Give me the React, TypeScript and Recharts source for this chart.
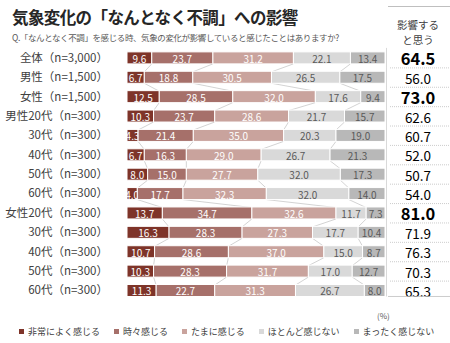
import React from 'react';
import { BarChart, Bar, XAxis, YAxis, Legend } from 'recharts';

const categories = ['全体（n=3,000）', '男性（n=1,500）', '女性（n=1,500）', '男性20代（n=300）', '30代（n=300）', '40代（n=300）', '50代（n=300）', '60代（n=300）', '女性20代（n=300）', '30代（n=300）', '40代（n=300）', '50代（n=300）', '60代（n=300）'];
const veryOften = [9.6, 6.7, 12.5, 10.3, 4.3, 6.7, 8.0, 4.0, 13.7, 16.3, 10.7, 10.3, 11.3];
const sometimes = [23.7, 18.8, 28.5, 23.7, 21.4, 16.3, 15.0, 17.7, 34.7, 28.3, 28.6, 28.3, 22.7];
const occasionally = [31.2, 30.5, 32.0, 28.6, 35.0, 29.0, 27.7, 32.3, 32.6, 27.3, 37.0, 31.7, 31.3];
const rarely = [22.1, 26.5, 17.6, 21.7, 20.3, 26.7, 32.0, 32.0, 11.7, 17.7, 15.0, 17.0, 26.7];
const never = [13.4, 17.5, 9.4, 15.7, 19.0, 21.3, 17.3, 14.0, 7.3, 10.4, 8.7, 12.7, 8.0];
const affected = [64.5, 56.0, 73.0, 62.6, 60.7, 52.0, 50.7, 54.0, 81.0, 71.9, 76.3, 70.3, 65.3];
const highlighted = [true, false, true, false, false, false, false, false, true, false, false, false, false];
const seriesNames = ['非常によく感じる', '時々感じる', 'たまに感じる', 'ほとんど感じない', 'まったく感じない'];
const seriesKeys = ['s1', 's2', 's3', 's4', 's5'];
const seriesValues = [veryOften, sometimes, occasionally, rarely, never];
const colors = ['#7E3429', '#A6706A', '#C9A39D', '#D9D9D9', '#B8B8B8'];
const labelColors = ['#FFFFFF', '#FFFFFF', '#FFFFFF', '#595959', '#595959'];

const data = categories.map((name, i) => {
  const row: any = { id: String(i), name };
  seriesKeys.forEach((k, s) => { row[k] = seriesValues[s][i]; });
  return row;
});

const cumEnd = (row: number, s: number) => {
  let t = 0;
  for (let k = 0; k <= s; k++) t += seriesValues[k][row];
  return t;
};

const GAP = 0.2;
const FONT = '"Noto Sans CJK JP", "Noto Sans", sans-serif';

const makeShape = (s: number) => (props: any) => {
  const { x, y, width, height, index } = props;
  const value = seriesValues[s][index];
  const ppu = width / value;
  const step = height / (1 - 2 * GAP);
  const xEnd = x + width;
  const elems: any[] = [];
  elems.push(<rect key="r" x={x} y={y} width={width} height={height} fill={colors[s]} stroke="#FFFFFF" strokeWidth={1} />);
  elems.push(
    <text key="t" x={x + width / 2} y={y + height / 2 + 0.5} textAnchor="middle" dominantBaseline="central" fontSize={10} fill={labelColors[s]} fontFamily={FONT}>
      {value.toFixed(1)}
    </text>
  );
  if (s < 4 && index < categories.length - 1) {
    const nextEnd = xEnd + (cumEnd(index + 1, s) - cumEnd(index, s)) * ppu;
    elems.push(<line key="c" x1={xEnd} y1={y + height} x2={nextEnd} y2={y + step} stroke="#C8C8C8" strokeWidth={0.8} />);
  }
  if (s === 4) {
    const cy = y + height / 2;
    const big = highlighted[index];
    elems.push(<line key="v" x1={xEnd + 1.5} y1={cy - step / 2} x2={xEnd + 1.5} y2={index === categories.length - 1 ? y + height : cy + step / 2} stroke="#D9D9D9" strokeWidth={1} />);
    elems.push(
      <text key="a" x={xEnd + 33} y={cy + 0.5} textAnchor="middle" dominantBaseline="central" fontSize={big ? 16.5 : 13.5} fontWeight={big ? 'bold' : 'normal'} fill="#000000" fontFamily={FONT}>
        {affected[index].toFixed(1)}
      </text>
    );
    if (index < categories.length - 1) {
      elems.push(<line key="d" x1={xEnd + 5} y1={cy + step / 2} x2={xEnd + 65} y2={cy + step / 2} stroke="#BFBFBF" strokeWidth={0.8} strokeDasharray="1 1" />);
    } else {
      elems.push(<line key="d" x1={xEnd + 3} y1={y + height} x2={xEnd + 65} y2={y + height} stroke="#BFBFBF" strokeWidth={0.8} />);
    }
  }
  return <g>{elems}</g>;
};

const LegendContent = () => (
  <div style={{ display: 'flex', alignItems: 'center', fontFamily: FONT, fontSize: 9, color: '#404040', whiteSpace: 'nowrap' }}>
    {seriesNames.map((n, i) => (
      <div key={n} style={{ display: 'flex', alignItems: 'center', marginRight: 14 }}>
        <span style={{ display: 'inline-block', width: 5, height: 5, background: colors[i], marginRight: 4 }} />
        <span>{n}</span>
      </div>
    ))}
  </div>
);

export default function App() {
  return (
    <div style={{ position: 'absolute', left: 0, top: 0, width: 450, height: 343, background: '#FFFFFF', overflow: 'hidden', fontFamily: FONT }}>
      <div style={{ position: 'absolute', left: 12, top: 5, fontSize: 16.5, fontWeight: 'bold', color: '#262626', whiteSpace: 'nowrap', letterSpacing: -0.6 }}>
        気象変化の「なんとなく不調」への影響
      </div>
      <div style={{ position: 'absolute', left: 12, top: 31, fontSize: 8.5, color: '#595959', whiteSpace: 'nowrap', letterSpacing: -0.4 }}>
        Q.「なんとなく不調」を感じる時、気象の変化が影響していると感じたことはありますか?
      </div>
      <div style={{ position: 'absolute', left: 388, top: 6, width: 62, borderTop: '1px solid #BFBFBF' }} />
      <div style={{ position: 'absolute', left: 388, top: 17, width: 60, textAlign: 'center', fontSize: 10.5, lineHeight: '15px', color: '#404040' }}>
        影響する<br />と思う
      </div>
      <div style={{ position: 'absolute', left: 377, top: 310, fontSize: 8, color: '#595959' }}>(%)</div>
      <BarChart
        width={450}
        height={343}
        data={data}
        layout="vertical"
        margin={{ top: 48, right: 65, bottom: 30, left: 0 }}
        barCategoryGap="20%"
      >
        <XAxis type="number" domain={[0, 100]} hide />
        <YAxis
          type="category"
          dataKey="id"
          width={127}
          tickLine={false}
          axisLine={false}
          tickSize={0}
          tickMargin={19}
          interval={0}
          tickFormatter={(v: string) => categories[Number(v)]}
          tick={{ fontSize: 11.5, fill: '#404040', fontFamily: FONT }}
        />
        {seriesKeys.map((k, s) => (
          <Bar key={k} dataKey={k} name={seriesNames[s]} stackId="a" fill={colors[s]} isAnimationActive={false} shape={makeShape(s)} />
        ))}
        <Legend content={<LegendContent />} wrapperStyle={{ left: 19, top: 325, width: 420 }} />
      </BarChart>
    </div>
  );
}
